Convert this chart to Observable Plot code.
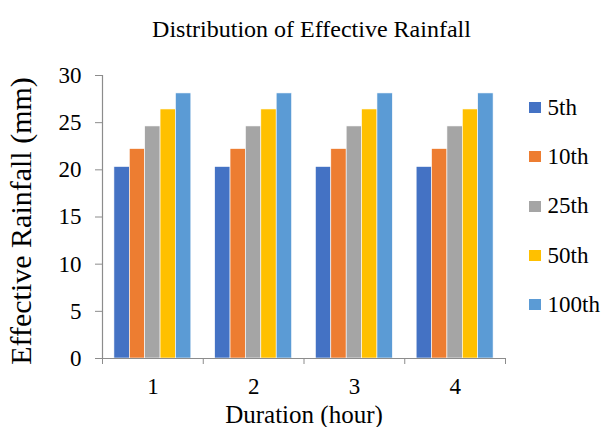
<!DOCTYPE html>
<html>
<head>
<meta charset="utf-8">
<script src="https://cdn.jsdelivr.net/npm/d3@7"></script>
<script src="https://cdn.jsdelivr.net/npm/@observablehq/plot@0.6"></script>
<style>
  html, body { margin: 0; padding: 0; background: #fff; }
  #wrap { position: relative; width: 603px; height: 427px; overflow: hidden; font-family: "Liberation Serif", serif; color: #000; }
  #title { height: 48px; box-sizing: border-box; padding-top: 15px; text-align: center; font-size: 24px; line-height: 28px; padding-left: 20px; white-space: nowrap; }
  #legend { position: absolute; left: 529px; top: 83px; }
  .row { height: 49.3px; display: flex; align-items: center; font-size: 23px; }
  .sw { width: 11.5px; height: 11px; margin-right: 7px; }
  #chart svg, #chart svg text { font-family: "Liberation Serif", serif !important; }
</style>
</head>
<body>
<div id="wrap">
  <div id="title">Distribution of Effective Rainfall</div>
  <div id="chart"></div>
  <div id="legend"></div>
</div>
<script>
const durations = [1, 2, 3, 4];
const seriesNames = ["5th", "10th", "25th", "50th", "100th"];
const colors = ["#4472C4", "#ED7D31", "#A5A5A5", "#FFC000", "#5B9BD5"];
const values5th = [20.3, 20.3, 20.3, 20.3];
const values10th = [22.2, 22.2, 22.2, 22.2];
const values25th = [24.6, 24.6, 24.6, 24.6];
const values50th = [26.4, 26.4, 26.4, 26.4];
const values100th = [28.1, 28.1, 28.1, 28.1];
const yTicks = [0, 5, 10, 15, 20, 25, 30];

const allValues = [values5th, values10th, values25th, values50th, values100th];
const data = [];
durations.forEach((d, j) => {
  seriesNames.forEach((s, i) => {
    data.push({duration: d, series: s, k: i, value: allValues[i][j]});
  });
});

// layout of bars within a category slot (fractions of one slot)
const nS = seriesNames.length;
const barW = 0.1527;
const gap = (1 - nS * barW) / 2;
const boundaries = [0, ...durations].map(d => d + 0.5);

const axisGray = "#8c8c8c";
const serif = "Liberation Serif";

const chart = Plot.plot({
  width: 603,
  height: 379,
  marginLeft: 102,
  marginRight: 98,
  marginTop: 27,
  marginBottom: 69,
  style: {fontFamily: serif, fontSize: "23px", color: "#000", background: "#fff", overflow: "visible"},
  x: {type: "linear", domain: [0.5, 4.5]},
  y: {domain: [0, 30]},
  color: {domain: seriesNames, range: colors},
  marks: [
    Plot.rectY(data, {
      x1: d => d.duration - 0.5 + gap + d.k * barW,
      x2: d => d.duration - 0.5 + gap + (d.k + 1) * barW,
      y1: 0,
      y2: "value",
      fill: "series",
      stroke: "white",
      strokeWidth: 0.6
    }),
    Plot.ruleY([0], {stroke: axisGray, strokeWidth: 1.2}),
    Plot.ruleX([0.5], {y1: 0, y2: 30, stroke: axisGray, strokeWidth: 1.2}),
    Plot.axisY({ticks: yTicks, tickSize: 7, tickPadding: 14, stroke: axisGray, label: null, fontSize: 23, fontFamily: serif}),
    Plot.axisX({ticks: boundaries, tickSize: 6, tickFormat: () => "", stroke: axisGray, label: null}),
    Plot.axisX({ticks: durations, tickSize: 0, tickPadding: 19, tickFormat: d => String(d), label: null, fontSize: 23, fontFamily: serif}),
    Plot.text(["Duration (hour)"], {frameAnchor: "bottom", dy: 64, fontSize: 25, fontFamily: serif, fill: "#000"}),
    Plot.text(["Effective Rainfall (mm)"], {frameAnchor: "left", textAnchor: "middle", dx: -81, dy: 4, rotate: -90, fontSize: 30, fontFamily: serif, fill: "#000"})
  ]
});
document.getElementById("chart").appendChild(chart);

const legend = document.getElementById("legend");
seriesNames.forEach((s, i) => {
  const row = document.createElement("div");
  row.className = "row";
  const sw = document.createElement("div");
  sw.className = "sw";
  sw.style.background = colors[i];
  const t = document.createElement("span");
  t.textContent = s;
  row.appendChild(sw);
  row.appendChild(t);
  legend.appendChild(row);
});
</script>
</body>
</html>
